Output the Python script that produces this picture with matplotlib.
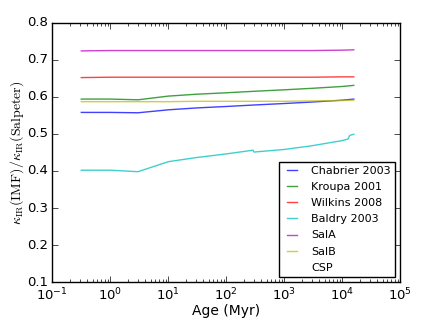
import numpy as np
import matplotlib
matplotlib.use('Agg')
import matplotlib.pyplot as plt

plt.style.use('classic')

age = [0.316, 1.0, 3.0, 10.0, 30.0, 100.0, 300.0, 1000.0, 3000.0, 10000.0, 15800.0]

chabrier = [0.558, 0.558, 0.557, 0.565, 0.570, 0.574, 0.578, 0.582, 0.586, 0.591, 0.594]
kroupa = [0.594, 0.594, 0.592, 0.602, 0.607, 0.611, 0.615, 0.619, 0.623, 0.628, 0.631]
wilkins = [0.652, 0.653, 0.653, 0.653, 0.653, 0.653, 0.653, 0.653, 0.653, 0.654, 0.654]
salA = [0.724, 0.725, 0.725, 0.725, 0.725, 0.725, 0.725, 0.725, 0.725, 0.726, 0.727]
salB = [0.587, 0.587, 0.587, 0.587, 0.588, 0.588, 0.588, 0.588, 0.589, 0.590, 0.591]

age_b = [0.316, 1.0, 3.0, 10.0, 30.0, 100.0, 290.0, 300.0, 1000.0, 3000.0, 10000.0, 12500.0, 13500.0, 15800.0]
baldry = [0.402, 0.402, 0.398, 0.425, 0.436, 0.446, 0.456, 0.451, 0.458, 0.468, 0.482, 0.486, 0.496, 0.499]

labels = ['Chabrier 2003', 'Kroupa 2001', 'Wilkins 2008', 'Baldry 2003', 'SalA', 'SalB', 'CSP']

fig = plt.figure(figsize=(4.36, 3.25), dpi=100, facecolor='white')
ax = fig.add_axes([0.12, 0.132, 0.798, 0.798])

a = 0.75
ax.plot(age, chabrier, color='b', alpha=a, label=labels[0])
ax.plot(age, kroupa, color='g', alpha=a, label=labels[1])
ax.plot(age, wilkins, color='r', alpha=a, label=labels[2])
ax.plot(age_b, baldry, color='c', alpha=a, label=labels[3])
ax.plot(age, salA, color='m', alpha=a, label=labels[4])
ax.plot(age, salB, color='y', alpha=a, label=labels[5])
ax.plot([], [], color='w', label=labels[6])

ax.set_xscale('log')
ax.set_xlim(0.1, 1e5)
ax.set_ylim(0.1, 0.8)
ax.set_yticks(np.arange(0.1, 0.81, 0.1))
ax.tick_params(labelsize=9.5, pad=3)
ax.set_xlabel('Age (Myr)', fontsize=10, labelpad=1)
ax.set_ylabel(r'$\kappa_{\rm IR}({\rm IMF})/\kappa_{\rm IR}({\rm Salpeter})$', fontsize=10, labelpad=1)

ax.legend(loc='lower right', fontsize=8, labelspacing=0.55, handlelength=1.5,
          handletextpad=1.0, borderaxespad=0.45)

fig.savefig('out.png', dpi=100, facecolor='white')
